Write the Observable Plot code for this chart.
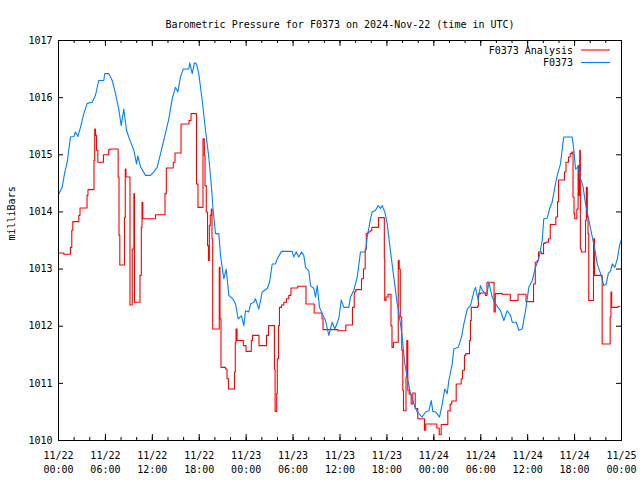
<!DOCTYPE html>
<html>
<head>
<meta charset="utf-8">
<script src="https://cdn.jsdelivr.net/npm/d3@7"></script>
<script src="https://cdn.jsdelivr.net/npm/@observablehq/plot@0.6"></script>
<style>
  html, body { margin: 0; padding: 0; background: #fff; }
  svg text { font-family: "DejaVu Sans Mono", "Liberation Mono", monospace; }
</style>
</head>
<body>
<div id="chart"></div>
<script>
const titleText = "Barometric Pressure for F0373 on 2024-Nov-22 (time in UTC)";
const yLabel = "milliBars";
const seriesNames = ["F0373 Analysis", "F0373"];
const seriesColors = ["#ff0000", "#0080ff"];
const startUTC = Date.UTC(2024, 10, 22, 0, 0);
const endUTC = Date.UTC(2024, 10, 25, 0, 0);
const yTicks = [1010, 1011, 1012, 1013, 1014, 1015, 1016, 1017];

// [hours since 2024-11-22 00:00 UTC, millibars]
const f0373 = [
[0,1014.30],[0.47,1014.43],[0.77,1014.67],[1.11,1014.87],[1.53,1015.31],[1.96,1015.32],[2.17,1015.40],[2.47,1015.32],
[2.81,1015.48],[3.24,1015.72],[3.67,1015.90],[4.31,1015.92],[4.73,1016.04],[5.15,1016.30],[5.79,1016.30],[5.92,1016.42],
[6.43,1016.42],[6.87,1016.30],[7.29,1016.07],[7.71,1015.80],[8.02,1015.51],[8.35,1015.80],[8.70,1015.43],[8.99,1015.31],
[9.63,1015.08],[9.98,1014.84],[10.14,1014.98],[10.49,1014.79],[11.13,1014.64],[11.77,1014.64],[12.19,1014.70],[12.62,1014.78],
[13.05,1015.02],[13.56,1015.31],[14.11,1015.63],[14.54,1015.98],[14.96,1016.18],[15.26,1016.10],[15.60,1016.36],[15.95,1016.50],
[16.66,1016.50],[16.79,1016.61],[17.10,1016.42],[17.39,1016.61],[17.65,1016.59],[17.94,1016.42],[18.38,1015.95],[18.80,1015.43],
[19.22,1014.96],[19.53,1014.49],[19.78,1014.03],[20.08,1013.62],[20.50,1013.62],[20.72,1013.24],[21.14,1012.83],[21.45,1013.00],
[21.78,1012.54],[22.29,1012.48],[22.64,1012.39],[22.98,1012.13],[23.40,1012.18],[23.70,1012.01],[23.92,1012.27],[24.34,1012.25],
[24.56,1012.39],[24.98,1012.42],[25.19,1012.48],[25.62,1012.30],[26.05,1012.60],[26.69,1012.66],[26.99,1012.77],[27.33,1013.09],
[27.75,1013.09],[27.97,1013.18],[28.52,1013.31],[29.89,1013.31],[30.09,1013.21],[30.40,1013.30],[30.73,1013.21],[31.08,1013.30],
[31.37,1013.24],[31.59,1013.03],[32.01,1012.97],[32.23,1012.71],[32.65,1012.66],[32.87,1012.51],[33.09,1012.71],[33.38,1012.33],
[33.73,1012.22],[34.15,1012.10],[34.57,1011.84],[35.00,1012.07],[35.34,1011.95],[35.85,1012.13],[36.16,1012.46],[36.49,1012.33],
[37.13,1012.33],[37.34,1012.51],[37.77,1012.63],[38.20,1012.86],[38.62,1013.30],[39.26,1013.30],[39.48,1013.56],[39.90,1013.88],
[40.12,1014.00],[40.54,1014.03],[40.89,1014.11],[41.18,1014.06],[41.40,1014.11],[41.73,1014.00],[42.04,1013.79],[42.46,1013.30],
[42.88,1012.86],[43.32,1012.39],[43.74,1012.04],[43.95,1011.81],[44.29,1011.34],[44.60,1011.11],[45.02,1010.82],[45.44,1010.64],
[45.87,1010.50],[46.51,1010.41],[46.94,1010.50],[47.36,1010.52],[47.67,1010.70],[47.87,1010.51],[48.22,1010.50],[48.73,1010.41],
[49.07,1010.64],[49.40,1010.90],[49.71,1010.82],[49.92,1011.05],[50.35,1011.34],[50.56,1011.60],[51.12,1011.63],[51.54,1011.81],
[51.84,1012.04],[52.27,1012.30],[52.69,1012.36],[53.11,1012.60],[53.33,1012.68],[53.67,1012.45],[53.96,1012.71],[54.18,1012.63],
[54.39,1012.60],[54.82,1012.57],[55.03,1012.77],[55.46,1012.51],[55.89,1012.39],[56.53,1012.27],[56.95,1012.10],[57.38,1012.27],
[57.81,1012.19],[58.02,1012.07],[58.54,1012.07],[58.87,1011.93],[59.30,1011.95],[59.72,1012.27],[60.15,1012.68],[60.58,1012.80],
[61.00,1013.03],[61.42,1013.18],[61.86,1013.50],[62.06,1013.88],[62.50,1013.89],[62.79,1014.05],[63.13,1014.17],[63.47,1014.43],
[63.78,1014.64],[64.20,1014.84],[64.50,1015.19],[64.62,1015.31],[65.70,1015.31],[65.91,1015.08],[66.12,1014.75],[66.47,1014.79],
[66.76,1014.58],[67.06,1014.46],[67.40,1014.14],[67.75,1013.91],[68.17,1013.62],[68.46,1013.44],[68.90,1013.09],[69.32,1012.92],
[69.74,1012.71],[70.05,1012.74],[70.31,1012.92],[70.60,1012.97],[70.82,1013.09],[71.15,1013.03],[71.47,1013.18],[71.75,1013.41],
[72.0,1013.53]
];

// [hours since 2024-11-22 00:00 UTC, millibars] (value holds until next sample)
const f0373Analysis = [
[0.00,1013.28],[0.68,1013.26],[1.53,1013.38],[1.70,1013.68],[1.83,1013.83],[2.60,1013.94],[2.75,1014.07],[3.65,1014.29],
[3.77,1014.39],[4.54,1014.90],[4.63,1015.45],[4.73,1015.34],[4.86,1015.08],[5.03,1014.87],[5.75,1015.00],[6.42,1015.09],
[6.61,1015.10],[7.63,1014.61],[7.74,1013.59],[7.84,1013.07],[8.44,1013.90],[8.54,1014.75],[8.63,1014.61],[9.14,1012.37],
[9.43,1013.35],[9.64,1014.32],[9.72,1012.42],[10.42,1012.89],[10.59,1013.73],[10.68,1014.17],[10.78,1013.88],[12.40,1013.95],
[13.62,1014.32],[13.79,1014.77],[14.68,1014.87],[14.90,1015.03],[15.67,1015.54],[16.69,1015.60],[16.95,1015.72],[17.65,1014.49],
[17.84,1014.08],[18.48,1015.28],[18.65,1014.99],[18.74,1014.46],[18.90,1014.00],[19.06,1013.41],[19.18,1013.15],[19.29,1013.76],
[19.41,1013.94],[19.54,1014.05],[19.63,1013.53],[19.72,1011.95],[20.56,1013.03],[20.65,1012.13],[20.78,1011.28],[21.36,1011.25],
[21.55,1011.08],[21.74,1010.90],[22.51,1011.20],[22.61,1011.72],[22.70,1011.95],[22.83,1011.75],[23.64,1011.66],[23.98,1011.56],
[24.66,1011.75],[24.81,1011.84],[25.64,1011.66],[26.60,1011.84],[26.86,1012.01],[27.62,1011.25],[27.70,1010.51],[27.90,1010.82],
[27.98,1011.43],[28.14,1012.01],[28.26,1012.33],[28.52,1012.37],[28.81,1012.42],[29.16,1012.48],[29.45,1012.54],[29.73,1012.67],
[30.60,1012.70],[31.65,1012.39],[32.70,1012.23],[33.70,1012.13],[33.83,1011.94],[35.75,1011.92],[36.74,1012.02],[37.60,1012.33],
[37.82,1012.60],[38.02,1012.64],[38.75,1012.83],[39.00,1013.00],[39.22,1013.35],[39.36,1013.62],[39.58,1013.65],[39.86,1013.67],
[40.07,1013.73],[40.93,1013.90],[41.67,1013.18],[41.72,1012.45],[41.88,1012.51],[42.14,1012.56],[42.52,1012.01],[42.65,1011.63],
[42.84,1011.72],[43.45,1013.15],[43.57,1013.00],[43.71,1012.16],[43.90,1011.58],[44.03,1010.88],[44.12,1010.52],[44.44,1011.11],
[44.54,1011.75],[44.67,1010.88],[44.85,1010.81],[45.10,1010.64],[45.31,1010.83],[45.62,1010.56],[45.95,1010.38],[46.81,1010.18],
[46.97,1010.29],[48.38,1010.22],[48.69,1010.10],[48.94,1010.28],[49.79,1010.52],[50.09,1010.64],[50.30,1010.69],[50.86,1010.99],
[51.50,1011.08],[51.67,1011.23],[51.92,1011.49],[52.09,1011.52],[52.56,1011.75],[52.69,1012.10],[52.79,1012.33],[53.62,1012.36],
[53.71,1012.57],[53.96,1012.58],[54.58,1012.54],[54.80,1012.77],[55.70,1012.25],[55.86,1012.57],[56.78,1012.56],[57.78,1012.45],
[58.77,1012.56],[59.79,1012.43],[60.75,1012.74],[60.97,1013.12],[61.22,1013.15],[61.39,1013.30],[61.75,1013.27],[62.03,1013.45],
[62.25,1013.47],[62.67,1013.53],[62.89,1013.78],[63.60,1013.91],[63.82,1014.18],[63.95,1014.56],[64.71,1014.70],[64.90,1014.87],
[65.22,1014.96],[65.44,1015.02],[65.64,1015.05],[65.80,1014.26],[65.93,1013.97],[66.02,1013.88],[66.29,1014.05],[66.45,1014.81],
[66.53,1014.29],[66.66,1015.08],[66.74,1013.35],[66.86,1013.30],[67.40,1013.85],[67.50,1014.43],[67.63,1013.91],[67.72,1013.62],
[67.81,1012.45],[68.42,1013.53],[68.55,1012.89],[69.53,1011.69],[70.55,1012.16],[70.65,1012.60],[70.75,1012.33],[71.55,1012.35],
[71.80,1012.35]
];

const toRows = (arr, name) => arr.map(([h, p]) => ({time: new Date(startUTC + h * 3600e3), p, name}));
const redRows = toRows(f0373Analysis, seriesNames[0]);
const blueRows = toRows(f0373, seriesNames[1]);

const fmt = d3.utcFormat("%m/%d\n%H:%M");
const FONT = 10;

const W = 640, H = 480, ML = 58, MR = 19, MT = 40, MB = 40;
const frameW = W - ML - MR, frameH = H - MT - MB;

const startDate = new Date(startUTC), endDate = new Date(endUTC);
const majorTicks = d3.utcHour.every(6).range(startDate, new Date(endUTC + 1));
const minorTicks = d3.utcHour.every(2).range(startDate, new Date(endUTC + 1));

const chart = Plot.plot({
  width: W,
  height: H,
  marginLeft: ML,
  marginRight: MR,
  marginTop: MT,
  marginBottom: MB,
  style: {fontFamily: "DejaVu Sans Mono, monospace", fontSize: FONT + "px", background: "#fff", color: "#000"},
  x: {type: "utc", domain: [startDate, endDate]},
  y: {domain: [1010, 1017]},
  marks: [
    // inward ticks: minor every 2 h, major every 6 h, on bottom and top
    Plot.tickX(minorTicks, {x: d => d, insetTop: frameH - 3, stroke: "#000"}),
    Plot.tickX(minorTicks, {x: d => d, insetBottom: frameH - 3, stroke: "#000"}),
    Plot.tickX(majorTicks, {x: d => d, insetTop: frameH - 6, stroke: "#000"}),
    Plot.tickX(majorTicks, {x: d => d, insetBottom: frameH - 6, stroke: "#000"}),
    // inward y ticks left and right
    Plot.tickY(yTicks, {y: d => d, insetRight: frameW - 5, stroke: "#000"}),
    Plot.tickY(yTicks, {y: d => d, insetLeft: frameW - 5, stroke: "#000"}),
    Plot.axisX({anchor: "bottom", ticks: majorTicks, tickSize: 0, tickPadding: 9, tickFormat: fmt,
      label: null, fontSize: FONT, lineHeight: 1.35}),
    Plot.axisY({anchor: "left", ticks: yTicks, tickSize: 0, tickPadding: 6, tickFormat: d => String(d), label: null, fontSize: FONT}),
    Plot.line(redRows, {x: "time", y: "p", stroke: seriesColors[0], strokeWidth: 1.1, curve: "step-after"}),
    Plot.line(blueRows, {x: "time", y: "p", stroke: seriesColors[1], strokeWidth: 1.1, curve: "linear"}),
    Plot.frame({stroke: "#000", strokeWidth: 1}),
    Plot.text([titleText], {frameAnchor: "top", dy: -20, fontSize: FONT, fill: "#000"}),
    Plot.text([yLabel], {frameAnchor: "left", dx: -47, rotate: -90, fontSize: FONT, fill: "#000"})
  ]
});

document.getElementById("chart").appendChild(chart);

// Legend (drawn in pixel space on top of the plot)
const svg = d3.select(chart);
const lg = svg.append("g").attr("font-size", FONT).attr("font-family", "DejaVu Sans Mono, monospace");
seriesNames.forEach((name, i) => {
  const y = 50 + i * 12.5;
  lg.append("text").attr("x", 573).attr("y", y).attr("dy", "0.35em").attr("text-anchor", "end").attr("fill", "#000").text(name);
  lg.append("line").attr("x1", 581).attr("x2", 610).attr("y1", y).attr("y2", y).attr("stroke", seriesColors[i]).attr("stroke-width", 1.1);
});
</script>
</body>
</html>
